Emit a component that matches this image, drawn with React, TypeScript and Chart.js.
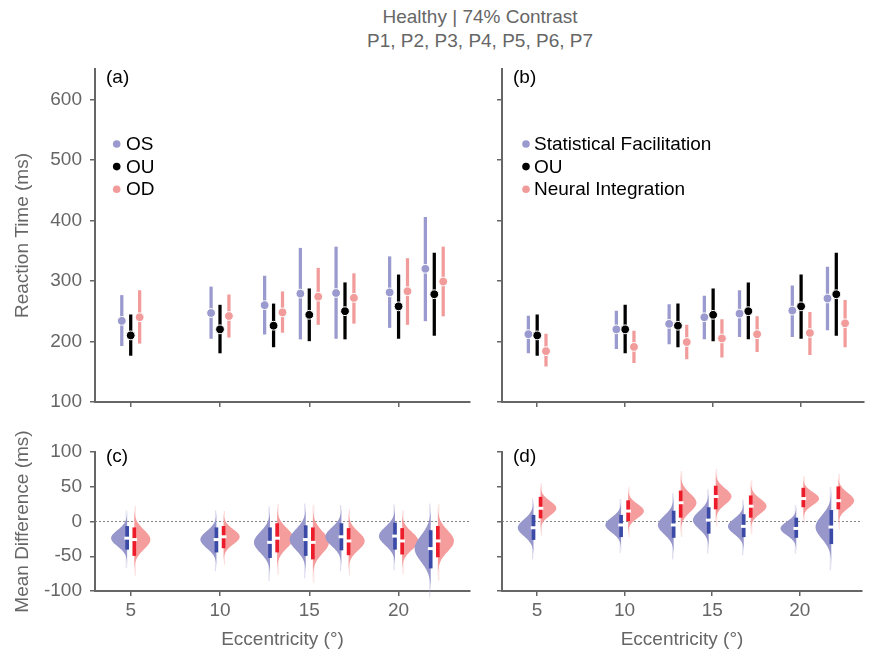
import React, { useEffect, useRef } from 'react';
import { Chart, registerables } from 'chart.js';
Chart.register(...registerables);

// ---------- data ----------
const eccentricities = [5, 10, 13, 15, 17, 20, 22];
const xTickValues = [5, 10, 15, 20];
const rtTickValues = [100, 200, 300, 400, 500, 600];
const diffTickValues = [-100, -50, 0, 50, 100];

// (a) reaction times
const osMean = [234, 247, 260, 279, 280, 281, 320];
const osLow = [193, 205, 212, 204, 205, 223, 234];
const osHigh = [276, 290, 308, 354, 356, 340, 405];
const ouMean = [210, 220, 226, 244, 250, 258, 278];
const ouLow = [177, 181, 191, 201, 204, 205, 210];
const ouHigh = [244, 260, 262, 287, 297, 310, 346];
const odMean = [240, 242, 248, 274, 272, 283, 299];
const odLow = [197, 207, 215, 228, 230, 228, 242];
const odHigh = [284, 277, 282, 321, 312, 337, 356];

// (b) model predictions
const sfMean = [212, 220, 229, 240, 246, 251, 271];
const sfLow = [181, 188, 196, 204, 208, 208, 219];
const sfHigh = [242, 250, 261, 275, 284, 292, 323];
const niMean = [184, 191, 199, 205, 212, 214, 230];
const niLow = [159, 165, 171, 174, 183, 178, 191];
const niHigh = [212, 217, 227, 236, 241, 248, 268];

// (c) mean differences OU - OS / OU - OD
const osDiffMedian = [-24, -26, -30, -26, -22, -21, -39];
const osDiffLow = [-40, -44, -52, -49, -41, -40, -67];
const osDiffHigh = [-7, -9, -9, -6, -3, -2, -13];
const odDiffMedian = [-26, -22, -24, -30, -28, -28, -28];
const odDiffLow = [-49, -38, -44, -54, -48, -47, -51];
const odDiffHigh = [-9, -7, -3, -9, -10, -10, -7];

// (d) mean differences OU - SF / OU - NI
const sfDiffMedian = [-9, -5, -5, 2, -7, -10, -8];
const sfDiffLow = [-26, -22, -23, -17, -22, -23, -32];
const sfDiffHigh = [9, 9, 15, 20, 10, 5, 16];
const niDiffMedian = [19, 15, 27, 36, 22, 33, 30];
const niDiffLow = [5, 1, 6, 18, 6, 21, 18];
const niDiffHigh = [35, 30, 44, 51, 37, 48, 50];

// ---------- styles ----------
const FONT = '"Liberation Sans", Arial, Helvetica, sans-serif';
const GRAY = '#666666';
const BLUE_LIGHT = '#9a9acf';
const RED_LIGHT = '#f29b9b';
const VIOLIN_BLUE = '#9797cc';
const VIOLIN_RED = '#f59c9c';
const BAR_BLUE = '#3a4aa6';
const BAR_RED = '#ec1c2a';
const W = 869;
const H = 655;
const SIDE = 0.5;
const V_OFF = 0.2;
const V_WIDTH = 0.9;

const LEFT = { left: 95, right: 470 };
const RIGHT = { left: 502, right: 869 };
const TOP = { top: 69, bottom: 402 };
const BOTTOM = { top: 452, bottom: 591 };
const X_MIN = 3;
const unitPx = (LEFT.right - LEFT.left) / 21;
const xMaxFor = (area: any) => X_MIN + (area.right - area.left) / unitPx;

const font19 = { family: FONT, size: 19 };

function xScale(area: any, showLabels: boolean, height: number) {
  return {
    type: 'linear',
    offset: false,
    min: X_MIN,
    max: xMaxFor(area),
    afterBuildTicks: (s: any) => { s.ticks = xTickValues.map((v) => ({ value: v })); },
    afterFit: (s: any) => { s.height = height; },
    grid: { display: true, offset: false, drawOnChartArea: false, drawTicks: true, tickLength: 5, color: GRAY, lineWidth: 1.5 },
    border: { display: true, color: GRAY, width: 2 },
    ticks: { display: showLabels, color: GRAY, font: font19, padding: 3, maxRotation: 0, autoSkip: false },
    title: { display: showLabels, text: 'Eccentricity (°)', color: GRAY, font: font19, padding: { top: 0, bottom: 4 } },
  };
}

function yScale(min: number, max: number, ticks: number[], showLabels: boolean, width: number, title: string) {
  return {
    type: 'linear',
    min,
    max,
    afterBuildTicks: (s: any) => { s.ticks = ticks.map((v) => ({ value: v })); },
    afterFit: (s: any) => { s.width = width; },
    grid: { display: true, drawOnChartArea: false, drawTicks: true, tickLength: 5, color: GRAY, lineWidth: 1.5 },
    border: { display: true, color: GRAY, width: 2 },
    ticks: { display: showLabels, color: GRAY, font: font19, padding: 8 },
    title: { display: !!title, text: title, color: GRAY, font: font19, padding: { top: 11, bottom: 0 } },
  };
}

function decorPlugin(label: string, dy: number, legend: { text: string; color: string }[] | null, legendDx: number, textDx: number) {
  return {
    id: 'decor',
    afterDraw(chart: any) {
      const { ctx, chartArea } = chart;
      ctx.save();
      ctx.font = `19px ${FONT}`;
      ctx.textBaseline = 'middle';
      ctx.textAlign = 'left';
      ctx.fillStyle = '#000';
      ctx.fillText(label, chartArea.left + 11, chartArea.top + dy);
      if (legend) {
        legend.forEach((item, k) => {
          const y = chartArea.top + 75 + k * 22.6;
          const x = chartArea.left + legendDx;
          ctx.beginPath();
          ctx.arc(x, y, 3.8, 0, Math.PI * 2);
          ctx.fillStyle = item.color;
          ctx.fill();
          ctx.fillStyle = '#000';
          ctx.fillText(item.text, x + textDx, y + 1);
        });
      }
      ctx.restore();
    },
  };
}

type Violin = { x: number; side: number; median: number; lo: number; hi: number; fill: string };

function violinPlugin(violins: Violin[]) {
  return {
    id: 'violins',
    afterDatasetDraw(chart: any, args: any) {
      if (args.index !== 0) return;
      const { ctx } = chart;
      const xs = chart.scales.x;
      const ys = chart.scales.y;
      ctx.save();
      violins.forEach((v) => {
        const base = xs.getPixelForValue(v.x);
        const w = xs.getPixelForValue(v.x + v.side * V_WIDTH) - base;
        const half = (v.hi - v.lo) / 2;
        const sigma = half * 0.7;
        const top = v.median + 4 * sigma;
        const bot = v.median - 4 * sigma;
        ctx.strokeStyle = v.fill;
        ctx.globalAlpha = 0.35;
        ctx.lineWidth = 1;
        ctx.beginPath();
        ctx.moveTo(base + v.side * 1, ys.getPixelForValue(v.median + 2.4 * half));
        ctx.lineTo(base + v.side * 1, ys.getPixelForValue(v.median - 2.6 * half));
        ctx.stroke();
        ctx.globalAlpha = 1;
        ctx.fillStyle = v.fill;
        ctx.beginPath();
        ctx.moveTo(base, ys.getPixelForValue(top));
        const n = 90;
        for (let k = 0; k <= n; k++) {
          const val = top - ((top - bot) * k) / n;
          const z = (val - v.median) / sigma;
          ctx.lineTo(base + w * Math.exp(-0.5 * z * z), ys.getPixelForValue(val));
        }
        ctx.lineTo(base, ys.getPixelForValue(bot));
        ctx.closePath();
        ctx.fill();
      });
      ctx.restore();
    },
  };
}

const commonOptions = (padding: any, scales: any) => ({
  animation: false,
  responsive: false,
  devicePixelRatio: 1,
  events: [],
  layout: { padding },
  plugins: { legend: { display: false }, tooltip: { enabled: false }, title: { display: false } },
  scales,
});

function errBar(offset: number, lo: number[], hi: number[], color: string) {
  return {
    type: 'bar',
    data: eccentricities.map((e, i) => ({ x: e + offset, y: [lo[i], hi[i]] })),
    backgroundColor: color,
    borderWidth: 0,
    barThickness: 2.6,
    grouped: false,
    order: 2,
  };
}

function dots(offset: number, mean: number[], color: string) {
  return {
    type: 'scatter',
    data: eccentricities.map((e, i) => ({ x: e + offset, y: mean[i] })),
    backgroundColor: color,
    borderColor: '#ffffff',
    borderWidth: 1,
    pointRadius: 4.4,
    showLine: false,
    order: 1,
  };
}

function rtConfig(area: any, showY: boolean, labels: string[], left: number[][], right: number[][], label: string, legendDx: number, textDx: number) {
  const [lMean, lLo, lHi] = left;
  const [rMean, rLo, rHi] = right;
  const xH = 8;
  return {
    type: 'scatter',
    data: {
      datasets: [
        errBar(-SIDE, lLo, lHi, BLUE_LIGHT),
        errBar(0, ouLow, ouHigh, '#000000'),
        errBar(SIDE, rLo, rHi, RED_LIGHT),
        dots(-SIDE, lMean, BLUE_LIGHT),
        dots(0, ouMean, '#000000'),
        dots(SIDE, rMean, RED_LIGHT),
      ],
    },
    options: commonOptions(
      { left: 0, right: W - area.right, top: TOP.top, bottom: H - TOP.bottom - xH },
      {
        x: xScale(area, false, xH),
        y: yScale(100, 650, rtTickValues, showY, area.left, showY ? 'Reaction Time (ms)' : ''),
      }
    ),
    plugins: [
      decorPlugin(label, 8.5, [
        { text: labels[0], color: BLUE_LIGHT },
        { text: labels[1], color: '#000000' },
        { text: labels[2], color: RED_LIGHT },
      ], legendDx, textDx),
    ],
  };
}

function diffConfig(area: any, showY: boolean, left: number[][], right: number[][], label: string) {
  const [lMed, lLo, lHi] = left;
  const [rMed, rLo, rHi] = right;
  const xH = H - BOTTOM.bottom;
  const violins: Violin[] = [];
  eccentricities.forEach((e, i) => {
    violins.push({ x: e - V_OFF, side: -1, median: lMed[i], lo: lLo[i], hi: lHi[i], fill: VIOLIN_BLUE });
    violins.push({ x: e + V_OFF, side: 1, median: rMed[i], lo: rLo[i], hi: rHi[i], fill: VIOLIN_RED });
  });
  const ciBar = (offset: number, lo: number[], hi: number[], color: string) => ({
    type: 'bar',
    data: eccentricities.map((e, i) => ({ x: e + offset, y: [lo[i], hi[i]] })),
    backgroundColor: color,
    borderWidth: 0,
    barThickness: 3,
    grouped: false,
    order: 5,
  });
  const med = (offset: number, m: number[]) => ({
    type: 'scatter',
    data: eccentricities.map((e, i) => ({ x: e + offset, y: m[i] })),
    pointStyle: 'line',
    pointRadius: 2.8,
    borderColor: '#ffffff',
    borderWidth: 3,
    backgroundColor: '#ffffff',
    showLine: false,
    order: 1,
  });
  return {
    type: 'scatter',
    data: {
      datasets: [
        {
          type: 'line',
          data: [{ x: X_MIN, y: 0 }, { x: 24, y: 0 }],
          borderColor: '#777777',
          borderWidth: 0.9,
          borderDash: [2, 2],
          pointRadius: 0,
          fill: false,
          order: 10,
        },
        ciBar(-V_OFF, lLo, lHi, BAR_BLUE),
        ciBar(V_OFF, rLo, rHi, BAR_RED),
        med(-V_OFF, lMed),
        med(V_OFF, rMed),
      ],
    },
    options: commonOptions(
      { left: 0, right: W - area.right, top: BOTTOM.top, bottom: 0 },
      {
        x: xScale(area, true, xH),
        y: yScale(-100, 100, diffTickValues, showY, area.left, showY ? 'Mean Difference (ms)' : ''),
      }
    ),
    plugins: [violinPlugin(violins), decorPlugin(label, 5, null, 0, 0)],
  };
}

const configs = [
  () => rtConfig(LEFT, true, ['OS', 'OU', 'OD'], [osMean, osLow, osHigh], [odMean, odLow, odHigh], '(a)', 21.7, 9.3),
  () => rtConfig(RIGHT, false, ['Statistical Facilitation', 'OU', 'Neural Integration'], [sfMean, sfLow, sfHigh], [niMean, niLow, niHigh], '(b)', 24, 8),
  () => diffConfig(LEFT, true, [osDiffMedian, osDiffLow, osDiffHigh], [odDiffMedian, odDiffLow, odDiffHigh], '(c)'),
  () => diffConfig(RIGHT, false, [sfDiffMedian, sfDiffLow, sfDiffHigh], [niDiffMedian, niDiffLow, niDiffHigh], '(d)'),
];

export default function App() {
  const r0 = useRef<HTMLCanvasElement>(null);
  const r1 = useRef<HTMLCanvasElement>(null);
  const r2 = useRef<HTMLCanvasElement>(null);
  const r3 = useRef<HTMLCanvasElement>(null);
  const refs = [r0, r1, r2, r3];

  useEffect(() => {
    const charts = configs.map((cfg, i) => new Chart(refs[i].current as HTMLCanvasElement, cfg() as any));
    return () => charts.forEach((c) => c.destroy());
  }, []);

  return (
    <div style={{ position: 'absolute', left: 0, top: 0, width: W, height: H, background: '#fff', overflow: 'hidden' }}>
      <div
        style={{
          position: 'absolute',
          left: 280,
          top: 5,
          width: 400,
          textAlign: 'center',
          fontFamily: FONT,
          fontSize: 19,
          lineHeight: '24px',
          color: GRAY,
        }}
      >
        <div>Healthy | 74% Contrast</div>
        <div>P1, P2, P3, P4, P5, P6, P7</div>
      </div>
      {refs.map((r, i) => (
        <canvas key={i} ref={r} width={W} height={H} style={{ position: 'absolute', left: 0, top: 0 }} />
      ))}
    </div>
  );
}
